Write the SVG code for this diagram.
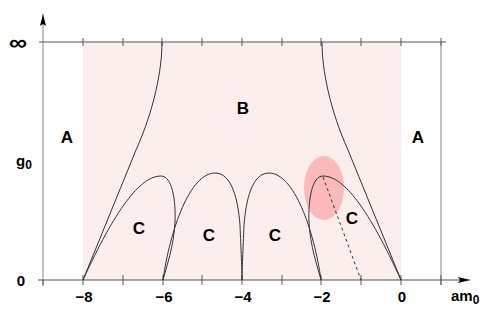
<svg xmlns="http://www.w3.org/2000/svg" width="491" height="316" viewBox="0 0 491 316">
<defs>
<style>
.ax{stroke:#555;stroke-width:1;fill:none}
.axv{stroke:#999;stroke-width:1.2;fill:none}
.cv{stroke:#333;stroke-width:1;fill:none}
.lb{font-family:"Liberation Sans",Arial,sans-serif;font-weight:bold;fill:#000}
.big{font-size:17px}
.tk{font-size:15px}
</style>
<marker id="ah" viewBox="0 0 12 6" refX="12" refY="3" markerWidth="12" markerHeight="6" markerUnits="userSpaceOnUse" orient="auto">
<path d="M0,0 L12,3 L0,6 L2,3 Z" fill="#000"/>
</marker>
</defs>
<rect width="491" height="316" fill="#fff"/>
<g id="regionB-bg">
<rect x="83" y="42" width="318" height="238" fill="#fdeeee"/>
</g>
<g id="highlight">
<ellipse cx="324" cy="188" rx="20" ry="32" fill="#fbb9bb"/>
</g>
<g id="axes">
<line class="axv" x1="43" y1="286" x2="43" y2="14" marker-end="url(#ah)"/>
<line class="axv" x1="441" y1="42" x2="441" y2="285"/>
<line class="ax" x1="39" y1="42" x2="446" y2="42"/>
<line class="ax" x1="38" y1="280" x2="470" y2="280" marker-end="url(#ah)"/>
<path class="ax" d="M83,38V46M123,38V46M162,38V46M202,38V46M242,38V46M282,38V46M321,38V46M361,38V46M401,38V46M441,38V46"/>
<path class="ax" d="M43,280V285M83,275V285M123,275V285M163,275V285M202,275V285M242,275V285M282,275V285M321,275V285M361,275V285M401,275V285M441,275V285"/>
</g>
<g id="connectors">
<path class="cv" d="M162,42 C162,70 154,110 136,150 L83,280"/>
<path class="cv" d="M322,42 C322,70 330,110 348,150 L401,280"/>
<path class="cv" d="M83,280 C115,210 140,176 161,176 C172,176 176,200 175,222 C174,246 166,268 163,280"/>
<path class="cv" d="M163,280 C170,230 190,173 215,173 C232,173 238,200 240,225 C241,250 242,270 242,280"/>
<path class="cv" d="M321,280 C314,230 294,173 269,173 C252,173 246,200 244,225 C243,250 242,270 242,280"/>
<path class="cv" d="M401,280 C369,210 344,176 323,176 C312,176 308,200 309,222 C310,246 318,268 321,280"/>
<line class="cv" x1="323" y1="177" x2="361" y2="280" stroke-dasharray="3,3"/>
</g>
<g id="labels">
<text class="lb big" x="67" y="143" text-anchor="middle">A</text>
<text class="lb big" x="418" y="143" text-anchor="middle">A</text>
<text class="lb big" x="243" y="114" text-anchor="middle">B</text>
<text class="lb big" x="139" y="234" text-anchor="middle">C</text>
<text class="lb big" x="209" y="241" text-anchor="middle">C</text>
<text class="lb big" x="275" y="241" text-anchor="middle">C</text>
<text class="lb big" x="352" y="224" text-anchor="middle">C</text>
<text class="lb" font-size="22" x="18" y="50" text-anchor="middle" transform="translate(18,0) scale(1.15,1) translate(-18,0)">∞</text>
<text class="lb" font-size="15" x="16" y="166">g<tspan font-size="12" dy="3">0</tspan></text>
<text class="lb" font-size="15" x="21" y="285.5" text-anchor="middle">0</text>
<text class="lb tk" x="84" y="301.5" text-anchor="middle">−8</text>
<text class="lb tk" x="164" y="301.5" text-anchor="middle">−6</text>
<text class="lb tk" x="243" y="301.5" text-anchor="middle">−4</text>
<text class="lb tk" x="322" y="301.5" text-anchor="middle">−2</text>
<text class="lb tk" x="402" y="301.5" text-anchor="middle">0</text>
<text class="lb tk" x="451" y="300.5">am<tspan font-size="12" dy="3">0</tspan></text>
</g>
</svg>
